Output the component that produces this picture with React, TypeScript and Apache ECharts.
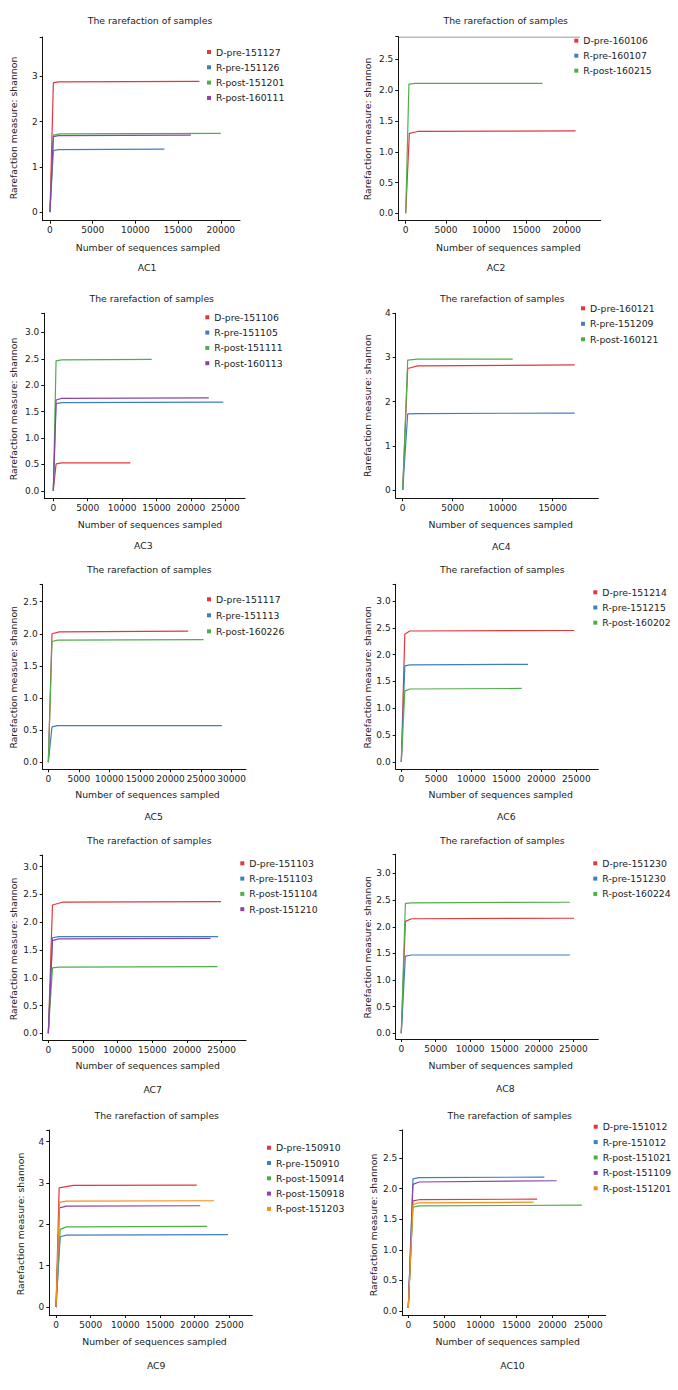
import React, { useEffect, useRef } from "react";
import * as echarts from "echarts";

const FONT = "DejaVu Sans";
const TITLE = "The rarefaction of samples";
const X_NAME = "Number of sequences sampled";
const Y_NAME = "Rarefaction measure: shannon";

const RED = "#e0383e";
const BLUE = "#3f7fbf";
const GREEN = "#4fae4a";
const PURPLE = "#8c44a8";
const ORANGE = "#f39018";

// ---------- AC1 ----------
const ac1Names = ["D-pre-151127", "R-pre-151126", "R-post-151201", "R-post-160111"];
const ac1Colors = [RED, BLUE, GREEN, PURPLE];
const ac1Curves = [
  [[0, 0], [400, 2.86], [1000, 2.88], [17500, 2.89]],
  [[0, 0], [400, 1.36], [1000, 1.38], [13400, 1.39]],
  [[0, 0], [400, 1.7], [1200, 1.73], [20000, 1.74]],
  [[0, 0], [400, 1.67], [1000, 1.69], [16500, 1.7]],
];
const ac1XTicks = [0, 5000, 10000, 15000, 20000];
const ac1YTicks = [0, 1, 2, 3];
const ac1XRange = [-850, 22250];
const ac1YRange = [-0.19, 3.87];

// ---------- AC2 ----------
const ac2Names = ["D-pre-160106", "R-pre-160107", "R-post-160215"];
const ac2Colors = [RED, BLUE, GREEN];
const ac2Curves = [
  [[0, 0], [450, 1.3], [1500, 1.33], [21100, 1.34]],
  [],
  [[0, 0], [400, 2.1], [1200, 2.11], [17000, 2.11]],
];
const ac2XTicks = [0, 5000, 10000, 15000, 20000];
const ac2YTicks = [0, 0.5, 1, 1.5, 2, 2.5];
const ac2XRange = [-920, 24220];
const ac2YRange = [-0.12, 2.87];

// ---------- AC3 ----------
const ac3Names = ["D-pre-151106", "R-pre-151105", "R-post-151111", "R-post-160113"];
const ac3Colors = [RED, BLUE, GREEN, PURPLE];
const ac3Curves = [
  [[0, 0.02], [400, 0.51], [1200, 0.53], [11200, 0.53]],
  [[0, 0], [400, 1.65], [1200, 1.67], [24700, 1.68]],
  [[0, 0], [400, 2.46], [1200, 2.48], [14300, 2.49]],
  [[0, 0], [400, 1.72], [1200, 1.75], [22600, 1.76]],
];
const ac3XTicks = [0, 5000, 10000, 15000, 20000, 25000];
const ac3YTicks = [0, 0.5, 1, 1.5, 2, 2.5, 3];
const ac3XRange = [-1310, 27860];
const ac3YRange = [-0.14, 3.36];

// ---------- AC4 ----------
const ac4Names = ["D-pre-160121", "R-pre-151209", "R-post-160121"];
const ac4Colors = [RED, BLUE, GREEN];
const ac4Curves = [
  [[0, 0], [500, 2.75], [1500, 2.81], [17200, 2.83]],
  [[0, 0], [500, 1.72], [1500, 1.73], [17200, 1.74]],
  [[0, 0], [500, 2.94], [1500, 2.96], [11000, 2.96]],
];
const ac4XTicks = [0, 5000, 10000, 15000];
const ac4YTicks = [0, 1, 2, 3, 4];
const ac4XRange = [-700, 19560];
const ac4YRange = [-0.19, 4.0];

// ---------- AC5 ----------
const ac5Names = ["D-pre-151117", "R-pre-151113", "R-post-160226"];
const ac5Colors = [RED, BLUE, GREEN];
const ac5Curves = [
  [[0, 0], [600, 2.0], [1800, 2.03], [22900, 2.04]],
  [[0, 0], [600, 0.55], [1500, 0.57], [28400, 0.57]],
  [[0, 0], [600, 1.88], [1500, 1.9], [25400, 1.91]],
];
const ac5XTicks = [0, 5000, 10000, 15000, 20000, 25000, 30000];
const ac5YTicks = [0, 0.5, 1, 1.5, 2, 2.5];
const ac5XRange = [-920, 32360];
const ac5YRange = [-0.11, 2.77];

// ---------- AC6 ----------
const ac6Names = ["D-pre-151214", "R-pre-151215", "R-post-160202"];
const ac6Colors = [RED, BLUE, GREEN];
const ac6Curves = [
  [[0, 0], [500, 2.38], [1200, 2.44], [24700, 2.45]],
  [[0, 0], [500, 1.79], [1200, 1.81], [18100, 1.82]],
  [[0, 0], [500, 1.32], [1200, 1.36], [17200, 1.37]],
];
const ac6XTicks = [0, 5000, 10000, 15000, 20000, 25000];
const ac6YTicks = [0, 0.5, 1, 1.5, 2, 2.5, 3];
const ac6XRange = [-800, 28140];
const ac6YRange = [-0.13, 3.31];

// ---------- AC7 ----------
const ac7Names = ["D-pre-151103", "R-pre-151103", "R-post-151104", "R-post-151210"];
const ac7Colors = [RED, BLUE, GREEN, PURPLE];
const ac7Curves = [
  [[0, 0], [600, 2.31], [2000, 2.36], [24900, 2.37]],
  [[0, 0], [600, 1.72], [1500, 1.74], [24500, 1.74]],
  [[0, 0], [600, 1.18], [1500, 1.19], [24400, 1.2]],
  [[0, 0], [600, 1.67], [1500, 1.7], [23400, 1.71]],
];
const ac7XTicks = [0, 5000, 10000, 15000, 20000, 25000];
const ac7YTicks = [0, 0.5, 1, 1.5, 2, 2.5, 3];
const ac7XRange = [-810, 28510];
const ac7YRange = [-0.12, 3.21];

// ---------- AC8 ----------
const ac8Names = ["D-pre-151230", "R-pre-151230", "R-post-160224"];
const ac8Colors = [RED, BLUE, GREEN];
const ac8Curves = [
  [[0, 0], [600, 2.1], [1500, 2.15], [25100, 2.16]],
  [[0, 0], [600, 1.45], [1500, 1.47], [24500, 1.47]],
  [[0, 0], [600, 2.44], [1500, 2.45], [24500, 2.46]],
];
const ac8XTicks = [0, 5000, 10000, 15000, 20000, 25000];
const ac8YTicks = [0, 0.5, 1, 1.5, 2, 2.5, 3];
const ac8XRange = [-810, 28630];
const ac8YRange = [-0.107, 3.36];

// ---------- AC9 ----------
const ac9Names = ["D-pre-150910", "R-pre-150910", "R-post-150914", "R-post-150918", "R-post-151203"];
const ac9Colors = [RED, BLUE, GREEN, PURPLE, ORANGE];
const ac9Curves = [
  [[0, 0], [450, 2.88], [2500, 2.94], [20300, 2.95]],
  [[0, 0], [600, 1.7], [1500, 1.74], [24800, 1.75]],
  [[0, 0], [600, 1.88], [1500, 1.94], [21800, 1.95]],
  [[0, 0], [500, 2.4], [1500, 2.44], [20800, 2.45]],
  [[0, 0], [500, 2.53], [1500, 2.56], [22800, 2.57]],
];
const ac9XTicks = [0, 5000, 10000, 15000, 20000, 25000];
const ac9YTicks = [0, 1, 2, 3, 4];
const ac9XRange = [-970, 28310];
const ac9YRange = [-0.19, 4.28];

// ---------- AC10 ----------
const ac10Names = ["D-pre-151012", "R-pre-151012", "R-post-151021", "R-post-151109", "R-post-151201"];
const ac10Colors = [RED, BLUE, GREEN, PURPLE, ORANGE];
const ac10Curves = [
  [[0, 0.05], [650, 1.8], [1500, 1.82], [17900, 1.83]],
  [[0, 0.05], [650, 2.16], [1500, 2.18], [18900, 2.19]],
  [[0, 0.05], [650, 1.7], [1500, 1.72], [24100, 1.73]],
  [[0, 0.05], [650, 2.07], [1500, 2.11], [20600, 2.13]],
  [[0, 0.05], [650, 1.74], [1500, 1.77], [17400, 1.78]],
];
const ac10XTicks = [0, 5000, 10000, 15000, 20000, 25000];
const ac10YTicks = [0, 0.5, 1, 1.5, 2, 2.5];
const ac10XRange = [-830, 27410];
const ac10YRange = [-0.065, 2.96];

const panelData = [
  { label: "AC1", names: ac1Names, colors: ac1Colors, curves: ac1Curves, xTicks: ac1XTicks, yTicks: ac1YTicks, xRange: ac1XRange, yRange: ac1YRange, dec: 0 },
  { label: "AC2", names: ac2Names, colors: ac2Colors, curves: ac2Curves, xTicks: ac2XTicks, yTicks: ac2YTicks, xRange: ac2XRange, yRange: ac2YRange, dec: 1 },
  { label: "AC3", names: ac3Names, colors: ac3Colors, curves: ac3Curves, xTicks: ac3XTicks, yTicks: ac3YTicks, xRange: ac3XRange, yRange: ac3YRange, dec: 1 },
  { label: "AC4", names: ac4Names, colors: ac4Colors, curves: ac4Curves, xTicks: ac4XTicks, yTicks: ac4YTicks, xRange: ac4XRange, yRange: ac4YRange, dec: 0 },
  { label: "AC5", names: ac5Names, colors: ac5Colors, curves: ac5Curves, xTicks: ac5XTicks, yTicks: ac5YTicks, xRange: ac5XRange, yRange: ac5YRange, dec: 1 },
  { label: "AC6", names: ac6Names, colors: ac6Colors, curves: ac6Curves, xTicks: ac6XTicks, yTicks: ac6YTicks, xRange: ac6XRange, yRange: ac6YRange, dec: 1 },
  { label: "AC7", names: ac7Names, colors: ac7Colors, curves: ac7Curves, xTicks: ac7XTicks, yTicks: ac7YTicks, xRange: ac7XRange, yRange: ac7YRange, dec: 1 },
  { label: "AC8", names: ac8Names, colors: ac8Colors, curves: ac8Curves, xTicks: ac8XTicks, yTicks: ac8YTicks, xRange: ac8XRange, yRange: ac8YRange, dec: 1 },
  { label: "AC9", names: ac9Names, colors: ac9Colors, curves: ac9Curves, xTicks: ac9XTicks, yTicks: ac9YTicks, xRange: ac9XRange, yRange: ac9YRange, dec: 0 },
  { label: "AC10", names: ac10Names, colors: ac10Colors, curves: ac10Curves, xTicks: ac10XTicks, yTicks: ac10YTicks, xRange: ac10XRange, yRange: ac10YRange, dec: 1 },
];

// Layout (pixels, relative to each panel box)
const layouts = [
  { left: 0, top: 0, w: 360, h: 280, gl: 42.7, gt: 37, gr: 240, gb: 220.7, tx: 150, ty: 21, nx: 148, ny: 247, yx: 13, yy: 128, ax: 147, ay: 267, lx: 207, ly: 52, lg: 15.3 },
  { left: 339, top: 0, w: 339, h: 280, gl: 59.3, gt: 36.7, gr: 261.7, gb: 220.7, tx: 166.7, ty: 21, nx: 169.3, ny: 247.3, yx: 28, yy: 129, ax: 157, ay: 267, lx: 235.3, ly: 40.7, lg: 15, topLine: 241 },
  { left: 0, top: 280, w: 360, h: 280, gl: 44.3, gt: 33.3, gr: 245, gb: 218.3, tx: 151.7, ty: 19, nx: 150, ny: 244.3, yx: 13.3, yy: 129, ax: 143.3, ay: 265.7, lx: 205.3, ly: 37.3, lg: 15.3 },
  { left: 339, top: 280, w: 339, h: 280, gl: 56.7, gt: 33.3, gr: 259.3, gb: 218.3, tx: 163.3, ty: 19, nx: 161.7, ny: 244.3, yx: 28.3, yy: 125.7, ax: 162.3, ay: 266.7, lx: 242, ly: 28.3, lg: 15.5 },
  { left: 0, top: 555, w: 360, h: 275, gl: 42.7, gt: 29.3, gr: 246, gb: 214.3, tx: 149.3, ty: 15, nx: 147.5, ny: 239.3, yx: 13.3, yy: 122.3, ax: 153.7, ay: 261.7, lx: 207, ly: 44.3, lg: 16 },
  { left: 339, top: 555, w: 339, h: 275, gl: 56.7, gt: 29.3, gr: 259.3, gb: 214, tx: 163.3, ty: 15, nx: 161.7, ny: 239.3, yx: 28.3, yy: 122.3, ax: 167.3, ay: 261.7, lx: 254.3, ly: 37.3, lg: 15.2 },
  { left: 0, top: 825, w: 360, h: 280, gl: 42.7, gt: 30, gr: 246, gb: 215, tx: 149.3, ty: 16, nx: 147.7, ny: 240.7, yx: 13.3, yy: 124, ax: 152.7, ay: 264, lx: 240.3, ly: 38.3, lg: 15.3 },
  { left: 339, top: 825, w: 339, h: 280, gl: 56.7, gt: 29.3, gr: 259.3, gb: 214, tx: 163.3, ty: 16, nx: 161.7, ny: 240.7, yx: 28.3, yy: 122.3, ax: 166.3, ay: 263.3, lx: 254.3, ly: 38.3, lg: 15.3 },
  { left: 0, top: 1100, w: 360, h: 290, gl: 49.3, gt: 30, gr: 252.3, gb: 215, tx: 156.7, ty: 16, nx: 154.5, ny: 241.7, yx: 20.7, yy: 124, ax: 156.2, ay: 265, lx: 267, ly: 47.7, lg: 15.3 },
  { left: 339, top: 1100, w: 339, h: 290, gl: 63.3, gt: 30, gr: 266.7, gb: 215, tx: 170.7, ty: 16, nx: 168.7, ny: 241.7, yx: 34.3, yy: 125, ax: 173.5, ay: 265, lx: 254.7, ly: 26.7, lg: 15.4 },
];

const TEXT = "#222";
const AXIS = "#111";

function textEl(text: string, x: number, y: number, rotation = 0) {
  return {
    type: "text",
    x,
    y,
    rotation,
    silent: true,
    style: {
      text,
      fill: TEXT,
      fontSize: 9.3,
      fontFamily: FONT,
      align: "center",
      verticalAlign: "middle",
      textAlign: "center",
      textVerticalAlign: "middle",
    },
  };
}

function buildOption(d: any, L: any) {
  const fmt = (v: number) => (d.dec ? v.toFixed(1) : String(v));
  const graphic: any[] = [
    textEl(X_NAME, L.nx, L.ny),
    textEl(Y_NAME, L.yx, L.yy, Math.PI / 2),
    textEl(d.label, L.ax, L.ay),
  ];
  if (L.topLine) {
    graphic.push({
      type: "line",
      silent: true,
      shape: { x1: L.gl, y1: L.gt + 0.5, x2: L.topLine, y2: L.gt + 0.5 },
      style: { stroke: "#9a9a9a", lineWidth: 1 },
    });
  }
  return {
    animation: false,
    textStyle: { fontFamily: FONT },
    title: {
      text: TITLE,
      left: L.tx,
      top: L.ty - 5.5,
      textAlign: "center",
      padding: 0,
      textStyle: { fontSize: 9.3, fontWeight: "normal", color: TEXT, fontFamily: FONT },
    },
    grid: { left: L.gl, top: L.gt, width: L.gr - L.gl, height: L.gb - L.gt, containLabel: false },
    xAxis: {
      type: "value",
      min: d.xRange[0],
      max: d.xRange[1],
      axisLine: { show: true, onZero: false, lineStyle: { color: AXIS, width: 1 } },
      axisTick: { show: true, length: 3, customValues: d.xTicks, lineStyle: { color: AXIS } },
      axisLabel: { customValues: d.xTicks, formatter: (v: number) => String(v), fontSize: 9, color: TEXT, margin: 5, fontFamily: FONT },
      splitLine: { show: false },
    },
    yAxis: {
      type: "value",
      min: d.yRange[0],
      max: d.yRange[1],
      axisLine: { show: true, onZero: false, lineStyle: { color: AXIS, width: 1 } },
      axisTick: { show: true, length: 3, customValues: [...d.yTicks, d.yRange[1]], lineStyle: { color: AXIS } },
      axisLabel: { customValues: d.yTicks, formatter: fmt, fontSize: 9, color: TEXT, margin: 5, fontFamily: FONT },
      splitLine: { show: false },
    },
    legend: {
      orient: "vertical",
      left: L.lx,
      top: L.ly - 6,
      padding: 0,
      icon: "rect",
      itemWidth: 4,
      itemHeight: 4,
      itemGap: L.lg - 12,
      selectedMode: false,
      textStyle: { fontSize: 9.3, color: TEXT, lineHeight: 12, fontFamily: FONT },
      data: d.names,
    },
    series: d.names.map((n: string, i: number) => ({
      type: "line",
      name: n,
      data: d.curves[i],
      showSymbol: false,
      symbol: "none",
      lineStyle: { color: d.colors[i], width: 1.2 },
      itemStyle: { color: d.colors[i] },
    })),
    graphic,
  };
}

function Panel({ idx }: { idx: number }) {
  const ref = useRef<HTMLDivElement>(null);
  const L = layouts[idx];
  useEffect(() => {
    if (!ref.current) return;
    const chart = echarts.init(ref.current, null, { renderer: "svg" });
    chart.setOption(buildOption(panelData[idx], L) as any);
    return () => chart.dispose();
  }, [idx]);
  return (
    <div
      ref={ref}
      style={{ position: "absolute", left: L.left, top: L.top, width: L.w, height: L.h }}
    />
  );
}

export default function App() {
  return (
    <div style={{ position: "absolute", left: 0, top: 0, width: 678, height: 1390, background: "#fff" }}>
      {panelData.map((_, i) => (
        <Panel key={i} idx={i} />
      ))}
    </div>
  );
}
